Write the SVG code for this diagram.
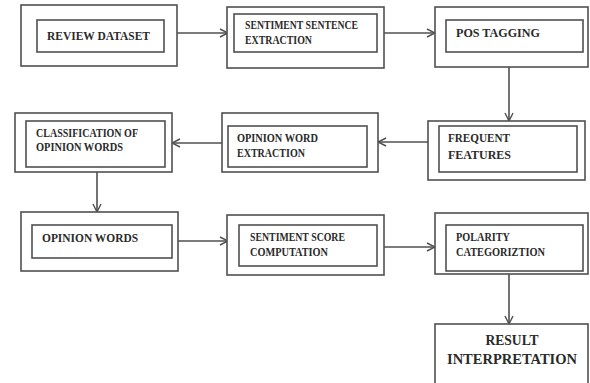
<svg xmlns="http://www.w3.org/2000/svg" width="590" height="383" viewBox="0 0 590 383">
<style>
.o{fill:#fff;stroke:#505050;stroke-width:1.6}
.i{fill:#fff;stroke:#505050;stroke-width:1.6}
.t{font-family:"Liberation Serif",serif;font-weight:bold;font-size:11.5px;fill:#2a2a2a}
.b{font-family:"Liberation Serif",serif;font-weight:bold;font-size:15px;fill:#2a2a2a}
.c{fill:none;stroke:#505050;stroke-width:1.6}
</style>
<defs>
<marker id="a" viewBox="0 0 10 10" refX="9" refY="5" markerWidth="10" markerHeight="10" markerUnits="userSpaceOnUse" orient="auto">
<path d="M1,1 L9,5 L1,9" fill="none" stroke="#505050" stroke-width="1.4"/>
</marker>
</defs>
<rect width="590" height="383" fill="#fff"/>
<g id="connectors">
<line class="c" x1="177" y1="33" x2="228" y2="33" marker-end="url(#a)"/>
<line class="c" x1="384" y1="33" x2="435" y2="33" marker-end="url(#a)"/>
<line class="c" x1="509" y1="67" x2="509" y2="121" marker-end="url(#a)"/>
<line class="c" x1="428" y1="142" x2="378" y2="142" marker-end="url(#a)"/>
<line class="c" x1="222" y1="143" x2="172" y2="143" marker-end="url(#a)"/>
<line class="c" x1="97" y1="172" x2="97" y2="212" marker-end="url(#a)"/>
<line class="c" x1="178" y1="241" x2="228" y2="241" marker-end="url(#a)"/>
<line class="c" x1="384" y1="247" x2="435" y2="247" marker-end="url(#a)"/>
<line class="c" x1="509" y1="274" x2="509" y2="324" marker-end="url(#a)"/>
</g>
<g id="review-dataset">
<rect class="o" x="21" y="5" width="156" height="61"/>
<rect class="i" x="37" y="20" width="127" height="32"/>
<text class="t" x="47" y="40" textLength="103" lengthAdjust="spacingAndGlyphs">REVIEW DATASET</text>
</g>
<g id="sentiment-sentence-extraction">
<rect class="o" x="227" y="7" width="157" height="61"/>
<rect class="i" x="234" y="14" width="143" height="38"/>
<text class="t" x="245" y="29" textLength="113" lengthAdjust="spacingAndGlyphs">SENTIMENT SENTENCE</text>
<text class="t" x="245" y="44" textLength="67" lengthAdjust="spacingAndGlyphs">EXTRACTION</text>
</g>
<g id="pos-tagging">
<rect class="o" x="435" y="7" width="153" height="60"/>
<rect class="i" x="446" y="20" width="137" height="32"/>
<text class="t" x="456" y="37" textLength="84" lengthAdjust="spacingAndGlyphs">POS TAGGING</text>
</g>
<g id="frequent-features">
<rect class="o" x="428" y="121" width="157" height="59"/>
<rect class="i" x="439" y="126" width="138" height="46"/>
<text class="t" x="448" y="142" textLength="62" lengthAdjust="spacingAndGlyphs">FREQUENT</text>
<text class="t" x="448" y="159" textLength="63" lengthAdjust="spacingAndGlyphs">FEATURES</text>
</g>
<g id="opinion-word-extraction">
<rect class="o" x="222" y="113" width="156" height="59"/>
<rect class="i" x="228" y="126" width="139" height="41"/>
<text class="t" x="237" y="142" textLength="81" lengthAdjust="spacingAndGlyphs">OPINION WORD</text>
<text class="t" x="237" y="157" textLength="68" lengthAdjust="spacingAndGlyphs">EXTRACTION</text>
</g>
<g id="classification-of-opinion-words">
<rect class="o" x="15" y="113" width="157" height="59"/>
<rect class="i" x="26" y="121" width="139" height="46"/>
<text class="t" x="36" y="137" textLength="102" lengthAdjust="spacingAndGlyphs">CLASSIFICATION OF</text>
<text class="t" x="36" y="151" textLength="87" lengthAdjust="spacingAndGlyphs">OPINION WORDS</text>
</g>
<g id="opinion-words">
<rect class="o" x="21" y="212" width="157" height="59"/>
<rect class="i" x="32" y="225" width="140" height="33"/>
<text class="t" x="42" y="242" textLength="96" lengthAdjust="spacingAndGlyphs">OPINION WORDS</text>
</g>
<g id="sentiment-score-computation">
<rect class="o" x="227" y="215" width="157" height="60"/>
<rect class="i" x="239" y="225" width="138" height="41"/>
<text class="t" x="250" y="241" textLength="95" lengthAdjust="spacingAndGlyphs">SENTIMENT SCORE</text>
<text class="t" x="250" y="256" textLength="78" lengthAdjust="spacingAndGlyphs">COMPUTATION</text>
</g>
<g id="polarity-categorization">
<rect class="o" x="435" y="213" width="153" height="61"/>
<rect class="i" x="446" y="225" width="137" height="46"/>
<text class="t" x="456" y="241" textLength="54" lengthAdjust="spacingAndGlyphs">POLARITY</text>
<text class="t" x="456" y="256" textLength="89" lengthAdjust="spacingAndGlyphs">CATEGORIZTION</text>
</g>
<g id="result-interpretation">
<rect class="o" x="435" y="324" width="153" height="70"/>
<text class="b" x="512" y="345" text-anchor="middle" textLength="53" lengthAdjust="spacingAndGlyphs">RESULT</text>
<text class="b" x="512" y="364" text-anchor="middle" textLength="130" lengthAdjust="spacingAndGlyphs">INTERPRETATION</text>
</g>
</svg>
